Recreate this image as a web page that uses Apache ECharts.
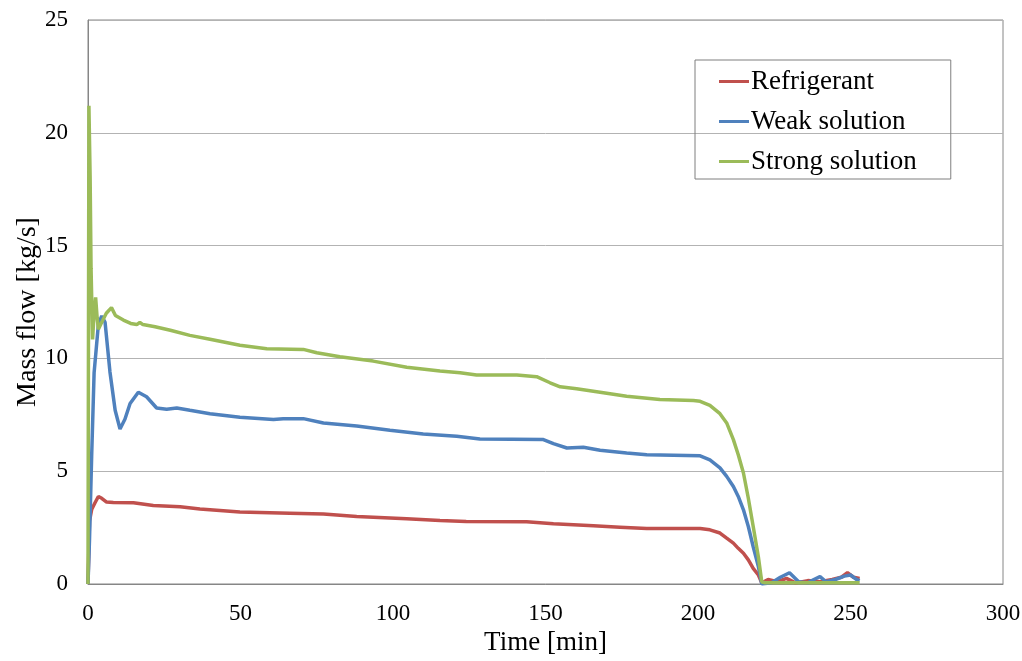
<!DOCTYPE html>
<html>
<head>
<meta charset="utf-8">
<script src="https://cdn.jsdelivr.net/npm/echarts@6/dist/echarts.min.js"></script>
<style>
  html, body { margin: 0; padding: 0; background: #fff; }
  #chart { width: 1022px; height: 661px; }
</style>
</head>
<body>
<div id="chart"></div>
<script>
// [time min, mass flow kg/s]
const refrigerant = [
    [0, 0], [0.5, 2.8], [1.2, 3.3], [2.3, 3.6], [3.4, 3.88], [4.5, 3.8], [6.1, 3.63],
    [8.3, 3.61], [14.9, 3.6], [21.4, 3.48], [30.2, 3.42], [36.7, 3.32], [49.8, 3.19],
    [66.2, 3.14], [77.2, 3.1], [88.1, 2.99], [104.5, 2.89], [115.4, 2.81], [124, 2.77],
    [143.8, 2.76], [152.6, 2.67], [165.7, 2.58], [174.4, 2.52], [183.2, 2.46], [200.7, 2.46],
    [203.9, 2.4], [207.2, 2.26], [209.4, 2.03], [211.6, 1.81], [213.2, 1.58], [214.9, 1.36],
    [216.5, 1.07], [218.1, 0.69], [219.8, 0.4], [220.9, 0.05], [223, 0.2], [226, 0.1],
    [229, 0.25], [232, 0.05], [236, 0.15], [240, 0.1], [244, 0.2], [247, 0.3], [249, 0.5],
    [251, 0.3], [253, 0.25]
]
const weakSolution = [
    [0, 0], [0.5, 2], [1.2, 5.66], [2.0, 9.36], [3.4, 11.5], [4.5, 11.88], [5.6, 11.6],
    [7.2, 9.4], [8.9, 7.7], [10.5, 6.87], [12.1, 7.3], [13.8, 8.0], [16.5, 8.5], [19.2, 8.3],
    [22.5, 7.8], [25.8, 7.75], [29.1, 7.8], [33.4, 7.7], [40, 7.55], [49.8, 7.39],
    [60.8, 7.29], [64, 7.33], [70.6, 7.33], [77.2, 7.14], [88.1, 7.0], [99, 6.82],
    [109.9, 6.65], [120.9, 6.55], [128.5, 6.43], [149.3, 6.4], [152.6, 6.22], [157, 6.03],
    [162.4, 6.06], [167.9, 5.93], [176.6, 5.81], [183.2, 5.73], [200.7, 5.68], [203.9, 5.5],
    [207.2, 5.15], [209.4, 4.77], [211.6, 4.32], [213.2, 3.88], [214.9, 3.29], [216.5, 2.55],
    [218.1, 1.65], [219.8, 0.77], [220.9, 0], [224, 0.05], [227, 0.3], [230, 0.5],
    [233, 0.1], [236, 0.05], [238, 0.2], [240, 0.33], [242, 0.1], [245, 0.2], [248, 0.35],
    [250, 0.4], [252, 0.2], [253, 0.15]
]
const strongSolution = [
    [0, 0], [0.3, 21.2], [0.7, 18], [1.0, 14], [1.5, 10.84], [2.0, 12.0], [2.5, 12.7],
    [3.0, 11.8], [3.4, 11.29], [4.5, 11.6], [6, 12.0], [7.7, 12.25], [9, 11.9], [11.6, 11.7],
    [14, 11.55], [16, 11.5], [17, 11.6], [18, 11.5], [22, 11.4], [27, 11.25], [33.4, 11.02],
    [40, 10.85], [49.8, 10.58], [58.6, 10.43], [70.6, 10.4], [75, 10.25], [82.6, 10.07],
    [93.5, 9.88], [104.5, 9.61], [115.4, 9.44], [122, 9.36], [127.4, 9.26], [140.6, 9.26],
    [147.1, 9.19], [151.5, 8.92], [154.8, 8.74], [160.2, 8.65], [167.9, 8.5], [176.6, 8.32],
    [187.5, 8.18], [198.5, 8.13], [200.7, 8.1], [203.9, 7.92], [207.2, 7.55], [209.4, 7.14],
    [211.6, 6.4], [213.2, 5.73], [214.9, 4.92], [216.5, 3.8], [218.1, 2.55], [219.8, 1.2],
    [220.9, 0.1], [222, 0.05], [253, 0.05]
]
const seriesNames = ['Refrigerant', 'Weak solution', 'Strong solution']
const colors = ['#C0504D', '#4F81BD', '#9BBB59']

let chart = echarts.init(document.getElementById('chart'))
const font = 'Liberation Serif, Times New Roman, serif'

let option = {
    animation: false,
    color: colors,
    textStyle: { fontFamily: font, color: '#000' },
    grid: {
        left: 88, right: 19, top: 20, bottom: 77,
        outerBoundsMode: 'none',
        containLabel: false,
        show: true,
        borderColor: '#868686',
        borderWidth: 1
    },
    legend: {
        orient: 'vertical',
        left: 695,
        top: 60,
        padding: [8, 34, 4, 24],
        itemGap: 13,
        itemWidth: 30,
        itemHeight: 3,
        icon: 'rect',
        borderColor: '#7f7f7f',
        borderWidth: 1,
        textStyle: { fontFamily: font, fontSize: 27, color: '#000', lineHeight: 27, padding: [0, 0, 0, -3] },
        data: seriesNames
    },
    xAxis: {
        type: 'value',
        min: 0, max: 300, interval: 50,
        name: 'Time [min]',
        nameLocation: 'middle',
        nameGap: 45,
        nameMoveOverlap: false,
        nameTextStyle: { fontFamily: font, fontSize: 27, color: '#000' },
        axisLine: { onZero: false, lineStyle: { color: '#868686' } },
        axisTick: { show: false },
        axisLabel: { fontFamily: font, fontSize: 23, color: '#000', margin: 18 },
        splitLine: { show: false }
    },
    yAxis: {
        type: 'value',
        min: 0, max: 25, interval: 5,
        name: 'Mass flow [kg/s]',
        nameLocation: 'middle',
        nameGap: 46,
        nameMoveOverlap: false,
        nameTextStyle: { fontFamily: font, fontSize: 28, color: '#000', padding: [0, 20, 0, 0] },
        axisLine: { show: true, lineStyle: { color: '#868686' } },
        axisTick: { show: false },
        axisLabel: { fontFamily: font, fontSize: 23, color: '#000', margin: 20 },
        splitLine: { lineStyle: { color: '#b3b3b3', width: 1 } }
    },
    series: [
        { name: seriesNames[0], type: 'line', data: refrigerant, symbol: 'none', lineStyle: { width: 3.5 } },
        { name: seriesNames[1], type: 'line', data: weakSolution, symbol: 'none', lineStyle: { width: 3.5 } },
        { name: seriesNames[2], type: 'line', data: strongSolution, symbol: 'none', lineStyle: { width: 3.5 } }
    ]
}

chart.setOption(option)
</script>
</body>
</html>
